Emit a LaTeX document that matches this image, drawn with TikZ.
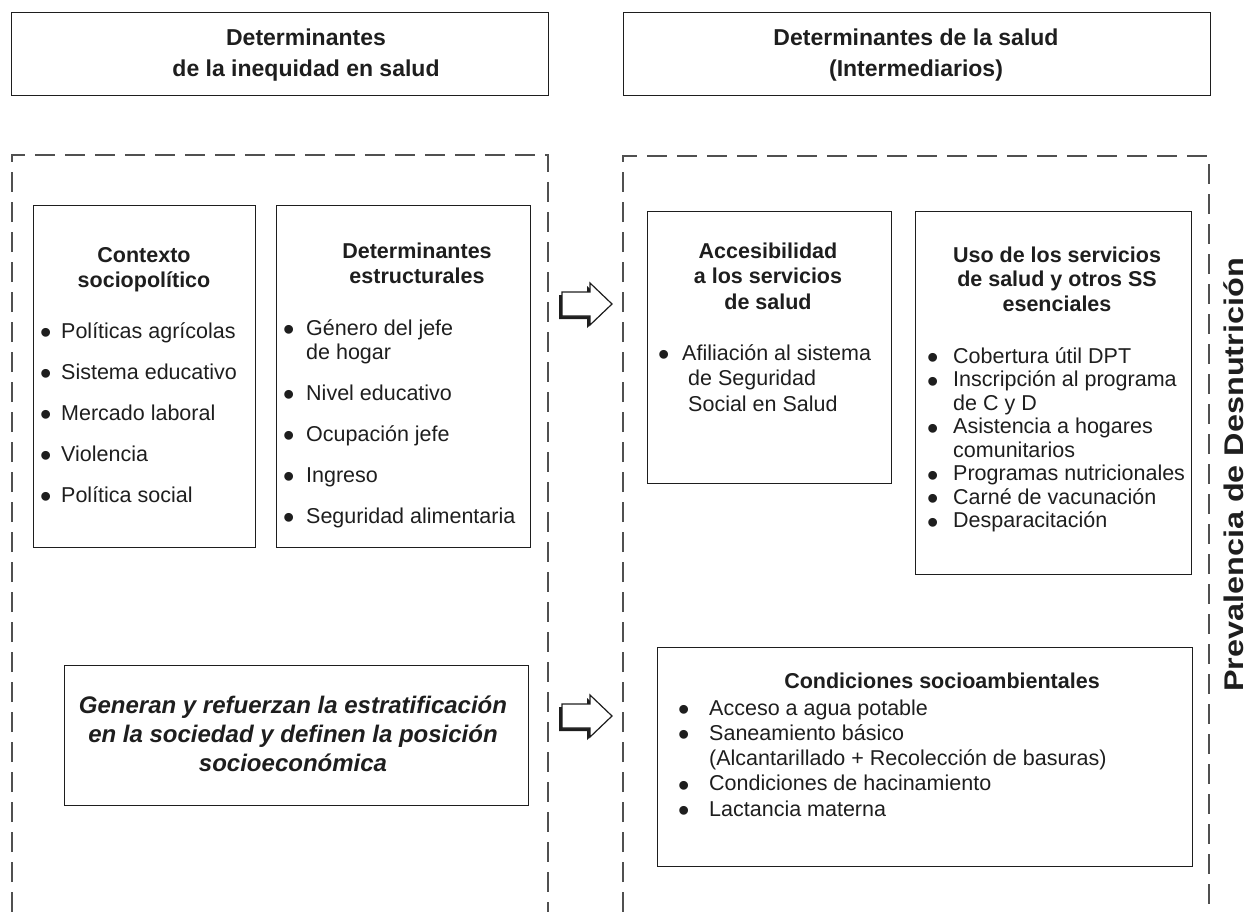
\documentclass[tikz,border=0pt]{standalone}
\usepackage{fontspec}
\setmainfont{Liberation Sans}
\usepackage{tikz}

\definecolor{ink}{HTML}{1E1E1E}
\definecolor{dashgray}{HTML}{505050}

\newcommand{\itemdot}{\raisebox{-5.5pt}{\scalebox{1.5}{\textbullet}}}

\tikzset{
	box/.style={draw=ink, line width=1.4pt, anchor=north west, inner sep=0pt},
	zone/.style={draw=dashgray, line width=1.3pt, dash pattern=on 20pt off 10pt},
	head/.style={font=\fontsize{23}{31}\selectfont\bfseries, text=ink, anchor=base, inner sep=0pt},
	title/.style={font=\fontsize{21.5}{25.5}\selectfont\bfseries, text=ink, anchor=base, inner sep=0pt},
	items/.style={font=\fontsize{21.5}{24}\selectfont, text=ink, anchor=base west, inner sep=0pt},
	fatarrow/.pic={
		\fill[ink, shift={(-3,3)}] (0,-12) -- (28,-12) -- (28,-21) -- (50,0) -- (28,21) -- (28,12) -- (0,12) -- cycle;
		\filldraw[fill=white, draw=ink, line width=1.2pt] (0,-12) -- (28,-12) -- (28,-21) -- (50,0) -- (28,21) -- (28,12) -- (0,12) -- cycle;
	}
}

\begin{document}
\begin{tikzpicture}[x=1pt, y=-1pt]

	\useasboundingbox (0,0) rectangle (1260,912);
	
	% top headers
	\node[box, minimum width=537pt, minimum height=83pt] (inequidad) at (11,12) {};
	\node[box, minimum width=587pt, minimum height=83pt] (intermedios) at (623,12) {};
	\node[head] (inequidadtxt) at (306,46) {\begin{tabular}[t]{@{}c@{}}Determinantes\\de la inequidad en salud\end{tabular}};
	\node[head] (intermediostxt) at (916,46) {\begin{tabular}[t]{@{}c@{}}Determinantes de la salud\\(Intermediarios)\end{tabular}};
	
	% dashed zones
	\draw[zone] (12,912) |- (548,155) -- (548,912);
	\draw[zone] (623,912) |- (1209,156) -- (1209,912);
	
	% left zone
	\node[box, minimum width=222pt, minimum height=342pt] (contexto) at (33,205) {};
	\node[box, minimum width=254pt, minimum height=342pt] (estructurales) at (276,205) {};
	\node[box, minimum width=464pt, minimum height=140pt] (genera) at (64,665) {};
	
	\node[title] (contextotit) at (144,262) {\begin{tabular}[t]{@{}c@{}}Contexto\\sociopolítico\end{tabular}};
	\node[items] (contextolist) at (40,338) {\begin{tabular}[t]{@{}p{21pt}@{}l@{}}
		\itemdot & Políticas agrícolas\\[17pt]
		\itemdot & Sistema educativo\\[17pt]
		\itemdot & Mercado laboral\\[17pt]
		\itemdot & Violencia\\[17pt]
		\itemdot & Política social
	\end{tabular}};
	
	\node[title] (estructuralestit) at (417,258) {\begin{tabular}[t]{@{}c@{}}Determinantes\\estructurales\end{tabular}};
	\node[items] (estructuraleslist) at (283,335) {\begin{tabular}[t]{@{}p{23pt}@{}l@{}}
		\itemdot & Género del jefe\\
		& de hogar\\[17pt]
		\itemdot & Nivel educativo\\[17pt]
		\itemdot & Ocupación jefe\\[17pt]
		\itemdot & Ingreso\\[17pt]
		\itemdot & Seguridad alimentaria
	\end{tabular}};
	
	\node[font=\fontsize{24}{29}\selectfont\bfseries\itshape, text=ink, anchor=base, inner sep=0pt] (generatxt) at (293,713) {\begin{tabular}[t]{@{}c@{}}Generan y refuerzan la estratificación\\en la sociedad y definen la posición\\socioeconómica\end{tabular}};
	
	% right zone
	\node[box, minimum width=244pt, minimum height=272pt] (acceso) at (647,211) {};
	\node[box, minimum width=276pt, minimum height=363pt] (uso) at (915,211) {};
	\node[box, minimum width=535pt, minimum height=219pt] (ambiente) at (657,647) {};
	
	\node[title] (accesotit) at (768,258) {\begin{tabular}[t]{@{}c@{}}Accesibilidad\\a los servicios\\de salud\end{tabular}};
	\node[items, font=\fontsize{21.5}{25.5}\selectfont] (accesolist) at (658,360) {\begin{tabular}[t]{@{}p{24pt}@{}l@{}}
		\itemdot & Afiliación al sistema\\
		& \hspace{6pt}de Seguridad\\
		& \hspace{6pt}Social en Salud
	\end{tabular}};
	
	\node[title, font=\fontsize{21.5}{24.5}\selectfont\bfseries] (usotit) at (1057,262) {\begin{tabular}[t]{@{}c@{}}Uso de los servicios\\de salud y otros SS\\esenciales\end{tabular}};
	\node[items, font=\fontsize{21.5}{23.5}\selectfont] (usolist) at (927,363) {\begin{tabular}[t]{@{}p{26pt}@{}l@{}}
		\itemdot & Cobertura útil DPT\\
		\itemdot & Inscripción al programa\\
		& de C y D\\
		\itemdot & Asistencia a hogares\\
		& comunitarios\\
		\itemdot & Programas nutricionales\\
		\itemdot & Carné de vacunación\\
		\itemdot & Desparacitación
	\end{tabular}};
	
	\node[title] (ambientetit) at (942,688) {Condiciones socioambientales};
	\node[items, font=\fontsize{21.5}{25.25}\selectfont] (ambientelist) at (678,715) {\begin{tabular}[t]{@{}p{31pt}@{}l@{}}
		\itemdot & Acceso a agua potable\\
		\itemdot & Saneamiento básico\\
		& (Alcantarillado + Recolección de basuras)\\
		\itemdot & Condiciones de hacinamiento\\
		\itemdot & Lactancia materna
	\end{tabular}};
	
	% arrows between zones
	\pic (flecha1) at (562,304) {fatarrow};
	\pic (flecha2) at (562,716) {fatarrow};
	
	% outcome
	\node[rotate=90, anchor=base, font=\fontsize{27}{30}\selectfont\bfseries, text=ink, inner sep=0pt] (prevalencia) at (1243,475) {\scalebox{1.2}[1]{Prevalencia de Desnutrición}};
	
\end{tikzpicture}
\end{document}
